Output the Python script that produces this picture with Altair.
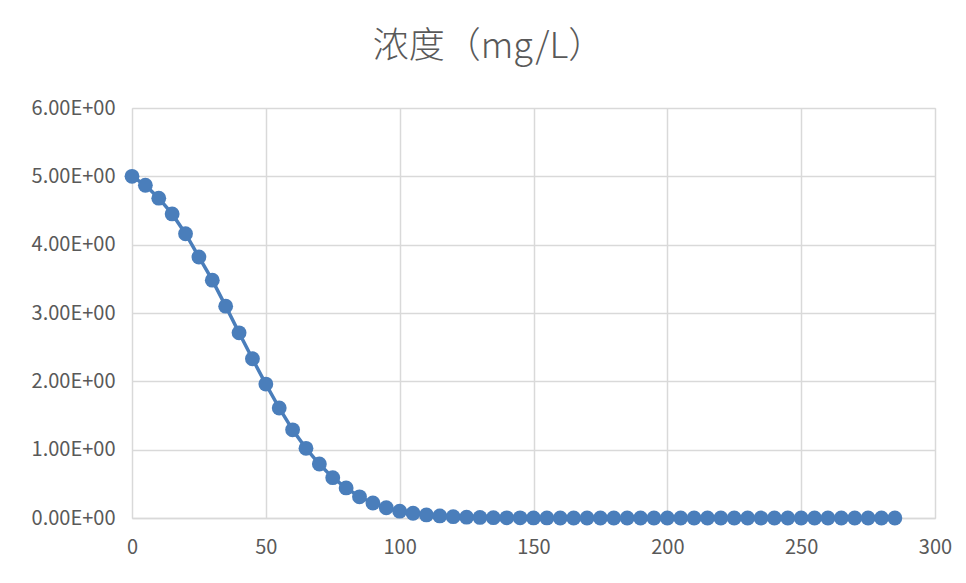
import altair as alt
import pandas as pd

time_min = list(range(0, 290, 5))
conc = [5.00, 4.87, 4.68, 4.45, 4.16, 3.82, 3.48, 3.10, 2.71, 2.33,
        1.96, 1.61, 1.29, 1.02, 0.79, 0.59, 0.44, 0.31, 0.22, 0.15,
        0.10, 0.07, 0.045, 0.03, 0.02, 0.012, 0.008, 0.005, 0.003, 0.002,
        0.001, 0.001, 0.0005, 0.0003, 0.0002, 0.0001, 0.0001, 0.0, 0.0, 0.0,
        0.0, 0.0, 0.0, 0.0, 0.0, 0.0, 0.0, 0.0, 0.0, 0.0,
        0.0, 0.0, 0.0, 0.0, 0.0, 0.0, 0.0, 0.0]
conc = conc[:len(time_min)]

df = pd.DataFrame({"t": time_min, "c": conc})

color = "#4A7EBB"
grey = "#595959"
font = "Noto Sans CJK SC"

x = alt.X("t:Q", scale=alt.Scale(domain=[0, 300], nice=False),
          axis=alt.Axis(values=[0, 50, 100, 150, 200, 250, 300], title=None,
                        ticks=False, domain=True, domainColor="#D9D9D9", domainWidth=1.5,
                        labelFlush=False, labelOverlap=False,
                        labelPadding=19, labelFontSize=20, labelColor=grey, labelFont=font,
                        gridColor="#D9D9D9", gridWidth=1.5))
y = alt.Y("c:Q", scale=alt.Scale(domain=[0, 6], nice=False),
          axis=alt.Axis(values=[0, 1, 2, 3, 4, 5, 6], title=None, ticks=False, domain=False,
                        labelFlush=False, labelOverlap=False,
                        labelPadding=17, labelFontSize=20, labelColor=grey, labelFont=font,
                        labelExpr="format(datum.value, '.2f') + 'E+00'",
                        gridColor="#D9D9D9", gridWidth=1.5))

line = alt.Chart(df).mark_line(color=color, strokeWidth=3.5).encode(x=x, y=y)
pts = alt.Chart(df).mark_circle(color=color, size=220, opacity=1).encode(x=x, y=y)

chart = (line + pts).properties(
    width=803, height=410,
    title=alt.TitleParams("浓度（mg/L）", font=font, fontSize=36, fontWeight=300,
                          color=grey, anchor="middle", dx=-45, offset=32),
    autosize=alt.AutoSizeParams(type="none"),
    padding={"left": 124, "top": 100, "right": 23, "bottom": 57},
).configure_view(stroke=None).configure(background="white")

chart.save("out.html", embed_options={"renderer": "svg", "actions": False})
